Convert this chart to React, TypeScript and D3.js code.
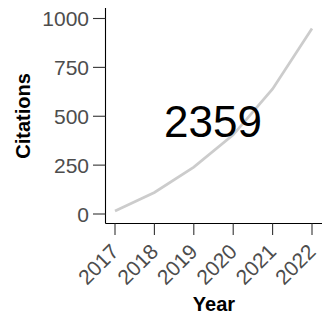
import React from "react";
import * as d3 from "d3";

const years = [2017, 2018, 2019, 2020, 2021, 2022];
const citations = [15, 110, 240, 405, 640, 949];
const yTicks = [0, 250, 500, 750, 1000];
const totalLabel = "2359";

export default function App() {
  const W = 322, H = 315;
  const x = d3.scaleLinear().domain([2017, 2022]).range([115, 312]);
  const y = d3.scaleLinear().domain([0, 1000]).range([214, 18.5]);
  const line = d3.line<number>().x((_, i) => x(years[i])).y((d) => y(d)).curve(d3.curveLinear);
  const font = "'Liberation Sans', Arial, sans-serif";
  const axisX = 105.5, axisY = 223.5;
  return (
    <svg width={W} height={H} style={{ position: "absolute", left: 0, top: 0 }} fontFamily={font}>
      <path d={line(citations) || ""} fill="none" stroke="#cccccc" strokeWidth={2.7} />
      <line x1={axisX} x2={axisX} y1={8} y2={axisY} stroke="#000" strokeWidth={1.1} />
      <line x1={axisX} x2={W} y1={axisY} y2={axisY} stroke="#000" strokeWidth={1.1} />
      {yTicks.map((t) => (
        <g key={t}>
          <line x1={93} x2={axisX} y1={y(t)} y2={y(t)} stroke="#333" strokeWidth={1.1} />
          <text x={89} y={y(t)} dy="0.36em" textAnchor="end" fontSize={21} fill="#4d4d4d">{t}</text>
        </g>
      ))}
      {years.map((yr) => (
        <g key={yr}>
          <line x1={x(yr)} x2={x(yr)} y1={axisY} y2={235} stroke="#333" strokeWidth={1.1} />
          <text transform={`translate(${x(yr) + 5},${253}) rotate(-45)`} textAnchor="end" fontSize={21} fill="#4d4d4d">{yr}</text>
        </g>
      ))}
      <text x={213} y={137} textAnchor="middle" fontSize={44} fill="#000">{totalLabel}</text>
      <text transform={`translate(30,116) rotate(-90)`} textAnchor="middle" fontSize={20} fontWeight="bold" fill="#000">Citations</text>
      <text x={214} y={311} textAnchor="middle" fontSize={20} fontWeight="bold" fill="#000">Year</text>
    </svg>
  );
}
